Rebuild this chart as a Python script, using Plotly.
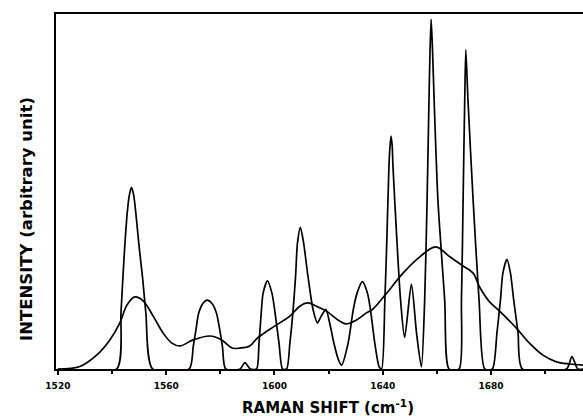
import plotly.graph_objects as go

# Sharp (resolved) spectrum: Raman shift (cm-1) and intensity (arbitrary, 0-100)
sharp_x = [1520, 1541.7, 1543.3, 1544.0, 1544.7, 1545.6, 1546.4, 1547.2, 1548.0, 1548.8, 1550.0,
           1551.3, 1552.5, 1555.0, 1568.5, 1570.0, 1571.0, 1572.0, 1573.7, 1575.1, 1576.8,
           1578.6, 1579.8, 1580.8, 1582.0, 1587.3, 1589.1, 1591.1, 1593.4, 1594.3, 1595.2,
           1595.8, 1597.4, 1599.1, 1600.1, 1601.7, 1603.0, 1604.5, 1605.7, 1606.9, 1607.8,
           1608.5, 1609.6, 1610.8, 1612.4, 1614.3, 1615.9, 1617.3, 1619.0, 1620.7, 1622.0,
           1623.7, 1624.8, 1627.2, 1629.1, 1630.5, 1632.5, 1634.4, 1635.5, 1637.1, 1638.7,
           1639.6, 1640.8, 1641.6, 1642.3, 1642.7, 1643.1, 1643.5, 1643.8, 1645.1, 1646.6,
           1648.1, 1650.6, 1652.5, 1654.3, 1655.5, 1656.4, 1657.1, 1657.5, 1657.9, 1658.4,
           1659.0, 1660.4, 1662.9, 1664.5, 1668.2, 1669.1, 1669.7, 1670.3, 1670.7, 1671.5,
           1673.4, 1675.6, 1677.7, 1680.5, 1682.2, 1683.5, 1684.4, 1685.9, 1687.2, 1688.4,
           1690.0, 1691.6, 1707.9, 1709.9, 1712.1, 1714]
sharp_y = [0, 0, 15.8, 25.6, 34.5, 43.9, 49.0, 51.2, 49.0, 43.9, 34.5,
           25.6, 15.8, 0, 0, 6.3, 11.0, 15.7, 18.6, 19.4, 18.6,
           15.7, 11.0, 6.3, 0, 0, 1.8, 0, 0, 7.2, 16.6,
           21.3, 24.8, 21.3, 16.6, 7.2, 0, 0, 7.2, 16.6, 26.0,
           35.4, 39.9, 35.4, 26.0, 16.6, 13.0, 14.9, 16.8, 11.9, 7.2,
           2.5, 1.1, 7.2, 16.6, 21.3, 24.6, 21.3, 16.6, 7.2, 0.6,
           0, 19.4, 38.2, 57.0, 62.8, 65.6, 62.8, 57.0, 38.2, 19.4,
           8.9, 23.9, 10.1, 0.6, 19.4, 47.6, 75.8, 89.9, 98.5, 89.9,
           75.8, 47.6, 19.4, 0, 0, 19.4, 47.6, 75.8, 89.9, 75.8,
           47.6, 19.4, 0, 0, 10.1, 19.4, 27.0, 30.9, 27.0, 19.4,
           10.1, 0, 0, 3.5, 0, 0]

# Broad (unresolved) spectrum
broad_x = [1520, 1528.1, 1534.3, 1539.2, 1542.9, 1545.5, 1548.4, 1551.5, 1555.2, 1558.9,
           1562.1, 1565.1, 1570.0, 1576.1, 1580.5, 1584.3, 1587.2, 1590.9, 1593.4, 1595.8,
           1599.5, 1605.7, 1609.4, 1612.3, 1615.5, 1619.2, 1624.1, 1626.4, 1630.3, 1634.0,
           1636.4, 1641.4, 1647.5, 1653.7, 1659.6, 1664.8, 1669.7, 1673.4, 1675.8, 1679.5,
           1683.2, 1689.4, 1694.3, 1699.2, 1704.2, 1709.1, 1714]
broad_y = [0, 0.7, 3.9, 8.2, 13.0, 18.0, 20.3, 19.2, 14.9, 10.1,
           7.3, 6.5, 8.2, 9.3, 8.2, 5.9, 5.9, 6.5, 8.5, 9.9,
           11.8, 14.9, 17.7, 18.6, 17.7, 16.3, 13.5, 12.7, 13.8, 15.8,
           16.9, 21.3, 27.0, 31.6, 34.4, 31.6, 29.0, 27.0, 23.1, 18.9,
           16.3, 11.5, 7.2, 3.9, 2.0, 1.4, 1.1]

major_ticks = [1520, 1560, 1600, 1640, 1680]
tick_labels = ["1520", "1560", "1600", "1640", "1680"]
minor_ticks = [1540, 1580, 1620, 1660, 1700]

fig = go.Figure()
fig.add_trace(go.Scatter(x=sharp_x, y=sharp_y, mode="lines",
                         line=dict(color="black", width=1.7, shape="spline", smoothing=0.7),
                         showlegend=False, hoverinfo="skip"))
fig.add_trace(go.Scatter(x=broad_x, y=broad_y, mode="lines",
                         line=dict(color="black", width=1.7, shape="spline", smoothing=1.0),
                         showlegend=False, hoverinfo="skip"))

fig.update_layout(
    width=583, height=416,
    margin=dict(l=56, r=0, t=14, b=47),
    paper_bgcolor="white", plot_bgcolor="white",
    font=dict(family="DejaVu Sans", color="black"),
    xaxis=dict(range=[1519.3, 1714], showgrid=False, zeroline=False,
               showline=True, linecolor="black", linewidth=1.7, mirror=True,
               tickmode="array", tickvals=major_ticks, ticktext=tick_labels,
               ticks="outside", ticklen=4, tickwidth=1.5, tickcolor="black",
               ticklabelstandoff=3,
               tickfont=dict(size=9, family="DejaVu Sans", weight="bold"),
               minor=dict(tickmode="array", tickvals=minor_ticks,
                          ticks="outside", ticklen=3, tickwidth=1.5, tickcolor="black")),
    yaxis=dict(range=[0, 100], showgrid=False, zeroline=False,
               showline=True, linecolor="black", linewidth=1.7, mirror=False,
               showticklabels=False, ticks=""),
    annotations=[
        dict(text="RAMAN SHIFT (cm<sup>-1</sup>)", xref="paper", yref="paper",
             x=0.516, y=-0.107, showarrow=False, xanchor="center", yanchor="middle",
             font=dict(size=15, family="DejaVu Sans", weight="bold")),
        dict(text="INTENSITY (arbitrary unit)", xref="paper", yref="paper",
             x=-0.057, y=0.4225, showarrow=False, textangle=-90,
             xanchor="center", yanchor="middle",
             font=dict(size=16.5, family="DejaVu Sans", weight="bold")),
    ],
)

fig.write_html("out.html", config={"displayModeBar": False},
               post_script="document.body.style.margin='0';document.body.style.overflow='hidden';")
